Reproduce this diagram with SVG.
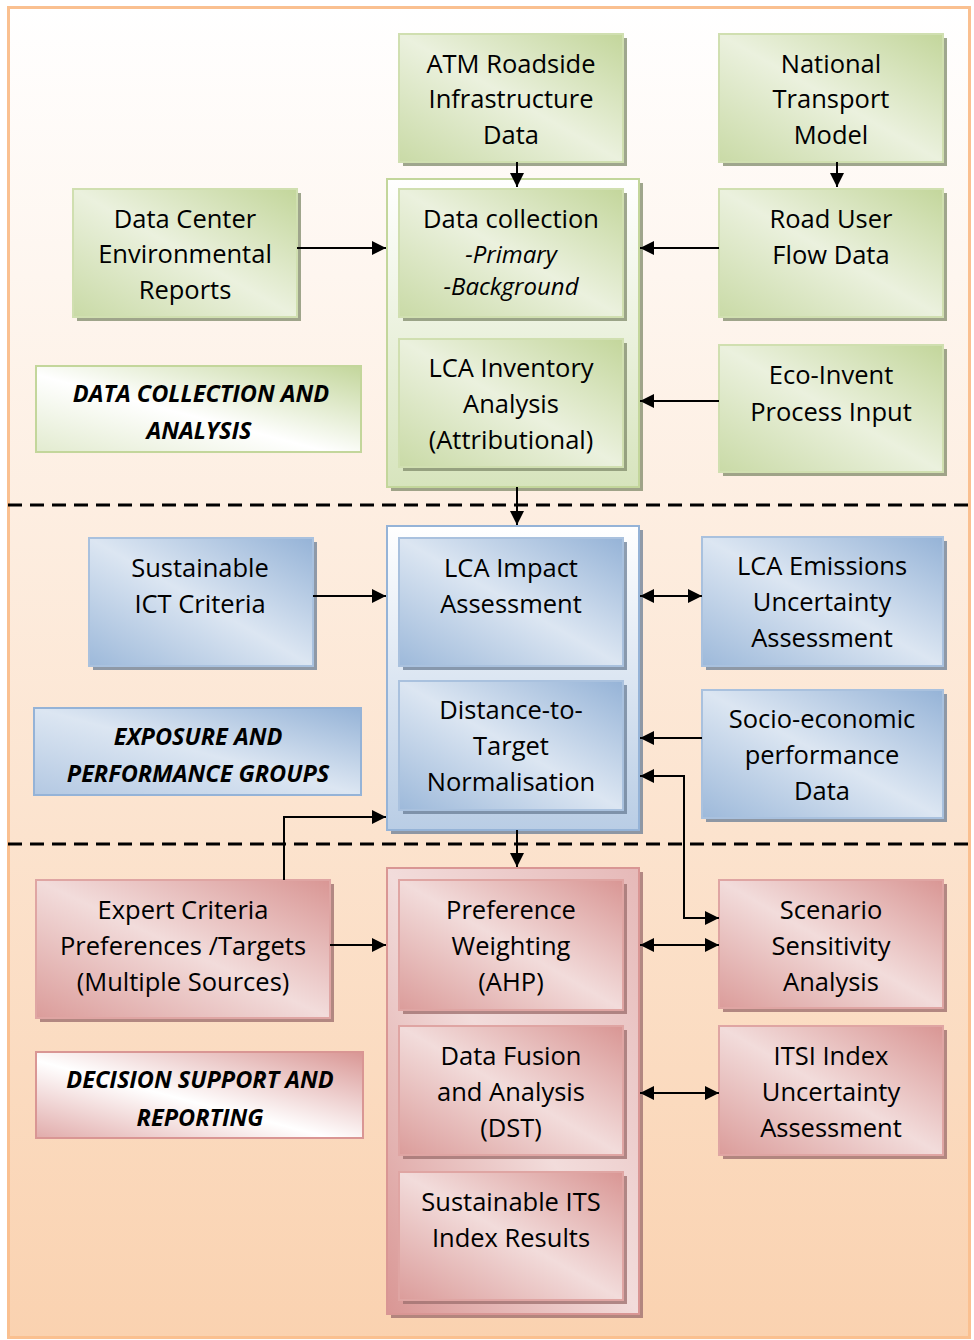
<svg xmlns="http://www.w3.org/2000/svg" width="974" height="1340" viewBox="0 0 974 1340">
<defs>
<linearGradient id="bg" x1="0" y1="0" x2="0" y2="1"><stop offset="0" stop-color="#FFFFFF"/><stop offset="1" stop-color="#FAD2B0"/></linearGradient>
<linearGradient id="gG" x1="1" y1="0" x2="0" y2="1"><stop offset="0" stop-color="#C3D69B"/><stop offset="0.5" stop-color="#EBF1DE"/><stop offset="1" stop-color="#C9DAA6"/></linearGradient>
<linearGradient id="gB" x1="1" y1="0" x2="0" y2="1"><stop offset="0" stop-color="#95B3D7"/><stop offset="0.5" stop-color="#DCE6F2"/><stop offset="1" stop-color="#9DB9DA"/></linearGradient>
<linearGradient id="gR" x1="1" y1="0" x2="0" y2="1"><stop offset="0" stop-color="#D99694"/><stop offset="0.5" stop-color="#F2DCDB"/><stop offset="1" stop-color="#DB9C9A"/></linearGradient>
<linearGradient id="lG" x1="1" y1="0" x2="0" y2="1"><stop offset="0" stop-color="#C3D69B"/><stop offset="0.55" stop-color="#FFFFFF"/><stop offset="1" stop-color="#E2EBCF"/></linearGradient>
<linearGradient id="lB" x1="1" y1="0" x2="0" y2="1"><stop offset="0" stop-color="#95B3D7"/><stop offset="0.5" stop-color="#DCE6F2"/><stop offset="1" stop-color="#B3C8E2"/></linearGradient>
<linearGradient id="lR" x1="1" y1="0" x2="0" y2="1"><stop offset="0" stop-color="#D99694"/><stop offset="0.55" stop-color="#FFFFFF"/><stop offset="1" stop-color="#E1ABAA"/></linearGradient>
<linearGradient id="cG" x1="0" y1="0" x2="0" y2="1"><stop offset="0" stop-color="#FFFFFF"/><stop offset="1" stop-color="#D7E4BD"/></linearGradient>
<linearGradient id="cB" x1="0" y1="0" x2="0" y2="1"><stop offset="0" stop-color="#FFFFFF"/><stop offset="1" stop-color="#B9CDE5"/></linearGradient>
<linearGradient id="cR" x1="1" y1="0" x2="0" y2="1"><stop offset="0" stop-color="#E6B9B8"/><stop offset="0.5" stop-color="#F2DCDB"/><stop offset="1" stop-color="#D99694"/></linearGradient>
<marker id="ah" viewBox="0 0 14 14" refX="14" refY="7" markerWidth="14" markerHeight="14" markerUnits="userSpaceOnUse" orient="auto-start-reverse"><path d="M0,0 L14,7 L0,14 Z" fill="#000"/></marker>
</defs>
<style>
.t{font-family:"Open Sans","Liberation Sans",sans-serif;font-size:25.5px;fill:#000;text-anchor:middle}
.i{font-style:italic;font-size:24px}
.lb{font-family:"Open Sans","Liberation Sans",sans-serif;font-size:23.5px;font-weight:bold;font-style:italic;fill:#000;text-anchor:middle}
.bg{fill:#7F8A6A;opacity:0.75}
.bb{fill:#6A7D96;opacity:0.75}
.br{fill:#A07270;opacity:0.8}
.g{fill:url(#gG);stroke:#D0DFB0;stroke-width:2}
.b{fill:url(#gB);stroke:#A9C1DE;stroke-width:2}
.r{fill:url(#gR);stroke:#DFA5A3;stroke-width:2}
.c{stroke:#000;stroke-width:2;fill:none}
.d{stroke:#000;stroke-width:3;stroke-dasharray:14 8;fill:none}
</style>
<rect x="8.5" y="7.5" width="961" height="1330" fill="url(#bg)" stroke="#FAC090" stroke-width="3"/>
<g id="dividers">
<line class="d" x1="8" y1="505" x2="970" y2="505"/>
<line class="d" x1="8" y1="844" x2="970" y2="844"/>
</g>
<g id="container-green"><rect class="bg" x="391" y="183" width="252" height="308"/><rect x="387" y="179" width="252" height="308" fill="url(#cG)" stroke="#C3D69B" stroke-width="2"/></g>
<g id="container-blue"><rect class="bb" x="391" y="530" width="252" height="304"/><rect x="387" y="526" width="252" height="304" fill="url(#cB)" stroke="#95B3D7" stroke-width="2"/></g>
<g id="container-red"><rect class="br" x="391" y="872" width="252" height="446"/><rect x="387" y="868" width="252" height="446" fill="url(#cR)" stroke="#D99694" stroke-width="2"/></g>

<g id="atm"><rect class="bg" x="403" y="38" width="224" height="128"/><rect class="g" x="399" y="34" width="224" height="128"/><text class="t" x="511" y="73">ATM Roadside</text><text class="t" x="511" y="108">Infrastructure</text><text class="t" x="511" y="144">Data</text></g>
<g id="ntm"><rect class="bg" x="723" y="38" width="224" height="128"/><rect class="g" x="719" y="34" width="224" height="128"/><text class="t" x="831" y="73">National</text><text class="t" x="831" y="108">Transport</text><text class="t" x="831" y="144">Model</text></g>
<g id="dcenv"><rect class="bg" x="77" y="193" width="224" height="128"/><rect class="g" x="73" y="189" width="224" height="128"/><text class="t" x="185" y="228">Data Center</text><text class="t" x="185" y="263">Environmental</text><text class="t" x="185" y="299">Reports</text></g>
<g id="datacol"><rect class="bg" x="403" y="193" width="224" height="128"/><rect class="g" x="399" y="189" width="224" height="128"/><text class="t" x="511" y="228">Data collection</text><text class="t i" x="511" y="263">-Primary</text><text class="t i" x="511" y="295">-Background</text></g>
<g id="road"><rect class="bg" x="723" y="193" width="224" height="128"/><rect class="g" x="719" y="189" width="224" height="128"/><text class="t" x="831" y="228">Road User</text><text class="t" x="831" y="264">Flow Data</text></g>
<g id="lcainv"><rect class="bg" x="403" y="343" width="224" height="128"/><rect class="g" x="399" y="339" width="224" height="128"/><text class="t" x="511" y="377">LCA Inventory</text><text class="t" x="511" y="413">Analysis</text><text class="t" x="511" y="449">(Attributional)</text></g>
<g id="eco"><rect class="bg" x="723" y="349" width="224" height="127"/><rect class="g" x="719" y="345" width="224" height="127"/><text class="t" x="831" y="384">Eco-Invent</text><text class="t" x="831" y="421">Process Input</text></g>
<g id="label-green"><rect x="36" y="366" width="325" height="86" fill="url(#lG)" stroke="#C3D69B" stroke-width="2"/><text class="lb" x="201" y="402">DATA COLLECTION AND</text><text class="lb" x="199" y="439">ANALYSIS</text></g>

<g id="ict"><rect class="bb" x="93" y="542" width="224" height="128"/><rect class="b" x="89" y="538" width="224" height="128"/><text class="t" x="200" y="577">Sustainable</text><text class="t" x="200" y="613">ICT Criteria</text></g>
<g id="impact"><rect class="bb" x="403" y="542" width="224" height="128"/><rect class="b" x="399" y="538" width="224" height="128"/><text class="t" x="511" y="577">LCA Impact</text><text class="t" x="511" y="613">Assessment</text></g>
<g id="emis"><rect class="bb" x="706" y="541" width="241" height="129"/><rect class="b" x="702" y="537" width="241" height="129"/><text class="t" x="822" y="575">LCA Emissions</text><text class="t" x="822" y="611">Uncertainty</text><text class="t" x="822" y="647">Assessment</text></g>
<g id="dtt"><rect class="bb" x="403" y="685" width="224" height="129"/><rect class="b" x="399" y="681" width="224" height="129"/><text class="t" x="511" y="719">Distance-to-</text><text class="t" x="511" y="755">Target</text><text class="t" x="511" y="791">Normalisation</text></g>
<g id="socio"><rect class="bb" x="706" y="694" width="241" height="128"/><rect class="b" x="702" y="690" width="241" height="128"/><text class="t" x="822" y="728">Socio-economic</text><text class="t" x="822" y="764">performance</text><text class="t" x="822" y="800">Data</text></g>
<g id="label-blue"><rect x="34" y="708" width="327" height="87" fill="url(#lB)" stroke="#95B3D7" stroke-width="2"/><text class="lb" x="198" y="745">EXPOSURE AND</text><text class="lb" x="198" y="782">PERFORMANCE GROUPS</text></g>

<g id="expert"><rect class="br" x="40" y="884" width="294" height="138"/><rect class="r" x="36" y="880" width="294" height="138"/><text class="t" x="183" y="919">Expert Criteria</text><text class="t" x="183" y="955">Preferences /Targets</text><text class="t" x="183" y="991">(Multiple Sources)</text></g>
<g id="pref"><rect class="br" x="403" y="884" width="224" height="130"/><rect class="r" x="399" y="880" width="224" height="130"/><text class="t" x="511" y="919">Preference</text><text class="t" x="511" y="955">Weighting</text><text class="t" x="511" y="991">(AHP)</text></g>
<g id="scen"><rect class="br" x="723" y="884" width="224" height="128"/><rect class="r" x="719" y="880" width="224" height="128"/><text class="t" x="831" y="919">Scenario</text><text class="t" x="831" y="955">Sensitivity</text><text class="t" x="831" y="991">Analysis</text></g>
<g id="fusion"><rect class="br" x="403" y="1030" width="224" height="129"/><rect class="r" x="399" y="1026" width="224" height="129"/><text class="t" x="511" y="1065">Data Fusion</text><text class="t" x="511" y="1101">and Analysis</text><text class="t" x="511" y="1137">(DST)</text></g>
<g id="itsi"><rect class="br" x="723" y="1030" width="224" height="129"/><rect class="r" x="719" y="1026" width="224" height="129"/><text class="t" x="831" y="1065">ITSI Index</text><text class="t" x="831" y="1101">Uncertainty</text><text class="t" x="831" y="1137">Assessment</text></g>
<g id="results"><rect class="br" x="403" y="1176" width="224" height="128"/><rect class="r" x="399" y="1172" width="224" height="128"/><text class="t" x="511" y="1211">Sustainable ITS</text><text class="t" x="511" y="1247">Index Results</text></g>
<g id="label-red"><rect x="36" y="1052" width="327" height="86" fill="url(#lR)" stroke="#D99694" stroke-width="2"/><text class="lb" x="200" y="1088">DECISION SUPPORT AND</text><text class="lb" x="200" y="1126">REPORTING</text></g>

<g id="connectors">
<line class="c" x1="517" y1="162" x2="517" y2="187" marker-end="url(#ah)"/>
<line class="c" x1="837" y1="162" x2="837" y2="187" marker-end="url(#ah)"/>
<line class="c" x1="297" y1="248" x2="386" y2="248" marker-end="url(#ah)"/>
<line class="c" x1="719" y1="248" x2="640" y2="248" marker-end="url(#ah)"/>
<line class="c" x1="719" y1="401" x2="640" y2="401" marker-end="url(#ah)"/>
<line class="c" x1="517" y1="487" x2="517" y2="525" marker-end="url(#ah)"/>
<line class="c" x1="313" y1="596" x2="386" y2="596" marker-end="url(#ah)"/>
<line class="c" x1="640" y1="596" x2="702" y2="596" marker-start="url(#ah)" marker-end="url(#ah)"/>
<line class="c" x1="702" y1="738" x2="640" y2="738" marker-end="url(#ah)"/>
<polyline class="c" points="640,776 684,776 684,918 719,918" marker-start="url(#ah)" marker-end="url(#ah)"/>
<polyline class="c" points="284,880 284,817 386,817" marker-end="url(#ah)"/>
<line class="c" x1="517" y1="830" x2="517" y2="867" marker-end="url(#ah)"/>
<line class="c" x1="330" y1="945" x2="386" y2="945" marker-end="url(#ah)"/>
<line class="c" x1="640" y1="945" x2="719" y2="945" marker-start="url(#ah)" marker-end="url(#ah)"/>
<line class="c" x1="640" y1="1093" x2="719" y2="1093" marker-start="url(#ah)" marker-end="url(#ah)"/>
</g>
</svg>
